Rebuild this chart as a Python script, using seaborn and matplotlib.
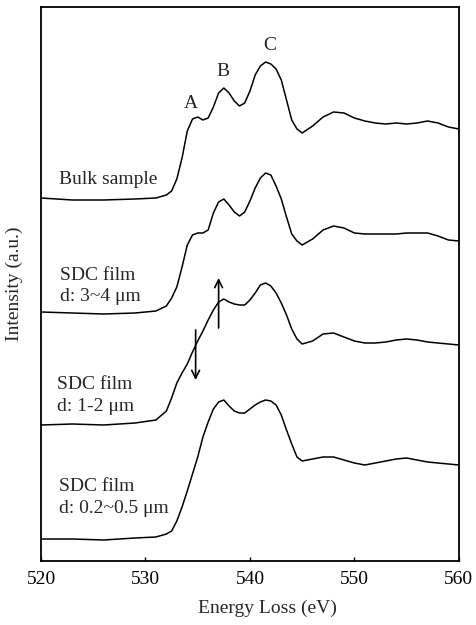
import numpy as np
import pandas as pd
import matplotlib
matplotlib.use("Agg")
import matplotlib.pyplot as plt
import seaborn as sns

# -----------------------------------------------------
# DATA (arbitrary intensity units)
# -----------------------------------------------------
energy = [520, 523, 526, 529, 531, 532, 532.5, 533, 533.5, 534, 534.5, 535, 535.5,
          536, 536.5, 537, 537.5, 538, 538.5, 539, 539.5, 540, 540.5, 541, 541.5,
          542, 542.5, 543, 543.5, 544, 544.5, 545, 546, 547, 548, 549, 550, 551,
          552, 553, 554, 555, 556, 557, 558, 559, 560]

bulk = [363, 361, 361, 362, 363, 366, 370, 382, 403, 430, 442, 444, 441,
        443, 454, 468, 473, 468, 460, 455, 458, 470, 486, 495, 499,
        497, 492, 481, 461, 441, 432, 428, 435, 444, 449, 448, 443, 440,
        438, 437, 438, 437, 438, 440, 438, 434, 432]

film_3_4 = [249, 248, 247, 248, 250, 255, 263, 274, 294, 316, 326, 328, 328,
            331, 348, 359, 362, 356, 349, 345, 349, 360, 373, 383, 388,
            386, 375, 362, 344, 327, 320, 316, 322, 331, 335, 333, 328, 327,
            327, 327, 327, 328, 328, 328, 325, 321, 320]

film_1_2 = [136, 137, 136, 138, 141, 150, 163, 178, 188, 197, 209, 220, 230,
            241, 251, 259, 262, 259, 257, 256, 256, 261, 268, 276, 278,
            275, 268, 258, 246, 232, 222, 217, 220, 227, 228, 224, 220, 218,
            218, 219, 221, 222, 221, 219, 218, 217, 216]

film_02_05 = [22, 22, 21, 23, 24, 27, 30, 40, 54, 70, 87, 104, 124,
              139, 152, 159, 161, 155, 150, 148, 148, 152, 156, 159, 161,
              160, 156, 146, 131, 117, 104, 100, 102, 104, 104, 101, 98, 96,
              98, 100, 102, 103, 101, 99, 98, 97, 96]

curve_labels = ["Bulk sample", "SDC film\nd: 3~4 μm", "SDC film\nd: 1-2 μm",
                "SDC film\nd: 0.2~0.5 μm"]
peak_labels = ["A", "B", "C"]

# -----------------------------------------------------
# STYLE
# -----------------------------------------------------
sns.set_style("ticks")
plt.rcParams["font.family"] = ["Liberation Serif", "DejaVu Serif"]

fig = plt.figure(figsize=(4.77, 6.25), dpi=100)
ax = fig.add_axes([0.086, 0.1024, 0.876, 0.8864])

for y in [bulk, film_3_4, film_1_2, film_02_05]:
    sns.lineplot(x=energy, y=y, color="black", linewidth=1.1, ax=ax)

ax.set_xlim(520, 560)
ax.set_ylim(0, 554)
ax.set_xticks([520, 530, 540, 550, 560])
ax.set_yticks([])
ax.tick_params(axis="x", direction="in", length=3, width=1.0,
               labelsize=14, pad=7, colors="black")
for s in ax.spines.values():
    s.set_linewidth(1.3)
    s.set_color("black")

ax.set_xlabel("Energy Loss (eV)", fontsize=14)
ax.set_ylabel("Intensity (a.u.)", fontsize=14)
ax.xaxis.set_label_coords(0.543, -0.07)
ax.yaxis.set_label_coords(-0.043, 0.5)

# curve labels
label_pos = [(521.75, 381), (521.8, 275), (521.5, 165.5), (521.75, 63.5)]
for (lx, ly), txt in zip(label_pos, curve_labels):
    ax.text(lx, ly, txt, fontsize=14, ha="left", va="center", linespacing=1.35)

# peak labels
for (px, py), txt in zip([(534.3, 458), (537.4, 489), (541.9, 516)], peak_labels):
    ax.text(px, py, txt, fontsize=14, ha="center", va="center")

# arrows
ax.annotate("", xy=(537.0, 283), xytext=(537.0, 233),
            arrowprops=dict(arrowstyle="->", color="black", lw=1.2,
                            mutation_scale=14, shrinkA=0, shrinkB=0))
ax.annotate("", xy=(534.8, 181), xytext=(534.8, 231),
            arrowprops=dict(arrowstyle="->", color="black", lw=1.2,
                            mutation_scale=14, shrinkA=0, shrinkB=0))

plt.savefig("out.png", dpi=100)
